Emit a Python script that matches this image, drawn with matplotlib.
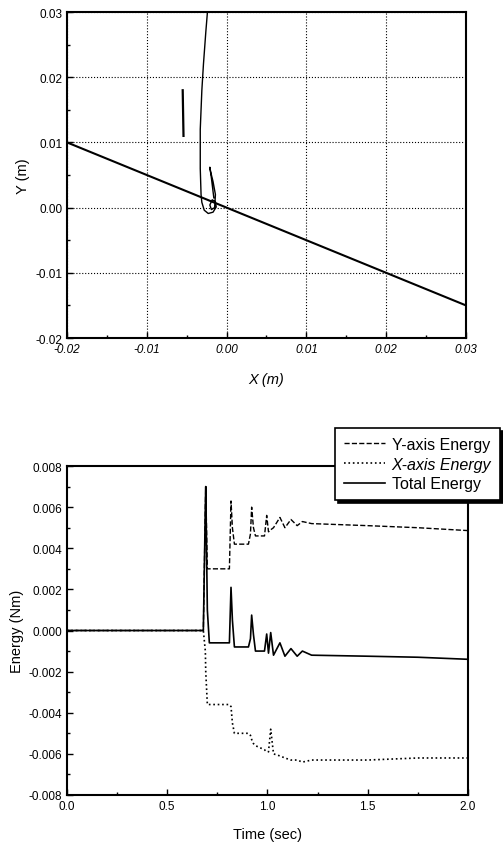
import matplotlib
matplotlib.use("Agg")
import matplotlib.pyplot as plt
from matplotlib.ticker import MultipleLocator

plt.rcParams['font.family'] = ['Liberation Sans', 'DejaVu Sans']

# ---- datos trayectoria (grafico superior) ----
ref_x = [-0.02, 0.03]
ref_y = [0.01, -0.015]

tray_x = [-0.0024, -0.0026, -0.0029, -0.0031, -0.0033, -0.0033, -0.0032, -0.0031,
          -0.0028, -0.0023, -0.0017, -0.0013, -0.0014, -0.0018, -0.0021, -0.0019,
          -0.0015, -0.0014, -0.0017, -0.0020, -0.0021, -0.0019, -0.0016]
tray_y = [0.030, 0.027, 0.022, 0.018, 0.012, 0.006, 0.002, 0.0008,
          -0.0004, -0.0009, -0.0007, 0.0001, 0.0009, 0.0012, 0.0004, -0.0003,
          0.0000, 0.0020, 0.0040, 0.0055, 0.0062, 0.0045, 0.0015]

marca_x = [-0.0055, -0.0054]
marca_y = [0.018, 0.011]

# ---- datos energia (grafico inferior) ----
t = [0.0, 0.68, 0.69, 0.692, 0.70, 0.71, 0.81, 0.818, 0.825, 0.835, 0.905, 0.915,
     0.921, 0.93, 0.94, 0.985, 0.996, 1.005, 1.016, 1.03, 1.062, 1.087, 1.117,
     1.148, 1.174, 1.22, 1.5, 1.75, 2.0]
e_total = [0.0, 0.0, 0.0060, 0.0070, 0.0010, -0.0006, -0.0006, 0.0021, 0.0005,
           -0.0008, -0.0008, -0.0004, 0.00075, -0.0002, -0.0010, -0.0010, -0.00017,
           -0.0011, -0.0001, -0.0012, -0.0006, -0.00125, -0.00088, -0.00125, -0.0010,
           -0.0012, -0.00125, -0.0013, -0.0014]
e_y = [0.0, 0.0, 0.0060, 0.0070, 0.0030, 0.0030, 0.0030, 0.0063, 0.0050,
       0.0042, 0.0042, 0.0047, 0.0060, 0.0050, 0.0046, 0.0046, 0.0056,
       0.0048, 0.0049, 0.0050, 0.0055, 0.0050, 0.0054, 0.0051, 0.0053,
       0.0052, 0.0051, 0.0050, 0.00486]
e_x = [0.0, 0.0, -0.0010, -0.0020, -0.0036, -0.0036, -0.0036, -0.0037, -0.0045,
       -0.0050, -0.0050, -0.0051, -0.0053, -0.0055, -0.0056, -0.0058, -0.0059,
       -0.0059, -0.0048, -0.0060, -0.0061, -0.0062, -0.0063, -0.0063, -0.0064,
       -0.0063, -0.0063, -0.0062, -0.0062]

fig = plt.figure(figsize=(5.03, 8.45), dpi=100)

# ==========================================
# grafico superior: X-Y
# ==========================================
ax1 = fig.add_axes([0.1332, 0.5988, 0.7932, 0.3858])
ax1.plot(ref_x, ref_y, color='black', linewidth=1.5, zorder=3)
ax1.plot(tray_x, tray_y, color='black', linewidth=1.0, zorder=3)
ax1.plot(marca_x, marca_y, color='black', linewidth=1.6, zorder=3)
ax1.set_xlim(-0.02, 0.03)
ax1.set_ylim(-0.02, 0.03)
ax1.xaxis.set_major_locator(MultipleLocator(0.01))
ax1.yaxis.set_major_locator(MultipleLocator(0.01))
ax1.yaxis.set_minor_locator(MultipleLocator(0.005))
ax1.xaxis.set_minor_locator(MultipleLocator(0.005))
ax1.xaxis.set_major_formatter(plt.FormatStrFormatter('%.2f'))
ax1.yaxis.set_major_formatter(plt.FormatStrFormatter('%.2f'))
ax1.grid(True, color='black', linestyle=':', linewidth=0.8)
ax1.tick_params(direction='in', labelsize=8.5, length=4, width=1)
ax1.tick_params(which='minor', direction='in', length=2.5, width=1)
for lb in ax1.get_xticklabels():
    lb.set_fontstyle('italic')
ax1.set_xlabel('X (m)', fontsize=10.5, fontstyle='italic', labelpad=12)
ax1.set_ylabel('Y (m)', fontsize=10.5, labelpad=4)
for s in ax1.spines.values():
    s.set_linewidth(1.5)

# ==========================================
# grafico inferior: energia
# ==========================================
ax2 = fig.add_axes([0.1332, 0.0580, 0.7972, 0.3893])
ax2.plot(t, e_y, color='black', linestyle='--', linewidth=1.0, label='Y-axis Energy')
ax2.plot(t, e_x, color='black', linestyle=':', linewidth=1.2, label='X-axis Energy')
ax2.plot(t, e_total, color='black', linestyle='-', linewidth=1.2, label='Total Energy')
ax2.set_xlim(0.0, 2.0)
ax2.set_ylim(-0.008, 0.008)
ax2.xaxis.set_major_locator(MultipleLocator(0.5))
ax2.xaxis.set_minor_locator(MultipleLocator(0.25))
ax2.yaxis.set_major_locator(MultipleLocator(0.002))
ax2.yaxis.set_minor_locator(MultipleLocator(0.001))
ax2.xaxis.set_major_formatter(plt.FormatStrFormatter('%.1f'))
ax2.yaxis.set_major_formatter(plt.FormatStrFormatter('%.3f'))
ax2.tick_params(direction='in', labelsize=8.5, length=4, width=1)
ax2.tick_params(which='minor', direction='in', length=2.5, width=1)
ax2.set_xlabel('Time (sec)', fontsize=10.5, labelpad=11)
ax2.set_ylabel('Energy (Nm)', fontsize=10.5, labelpad=3)
for s in ax2.spines.values():
    s.set_linewidth(1.5)

leg = ax2.legend(loc='upper right', bbox_to_anchor=(0.994, 0.4923),
                 bbox_transform=fig.transFigure, fontsize=11.5, frameon=True,
                 fancybox=False, shadow={'color': 'black', 'alpha': 1.0},
                 handlelength=2.6, handletextpad=0.4, labelspacing=0.3,
                 borderpad=0.55, borderaxespad=0)
leg.get_frame().set_edgecolor('black')
leg.get_frame().set_linewidth(1.2)
leg.get_frame().set_alpha(1.0)
leg.get_texts()[1].set_fontstyle('italic')

fig.savefig('out.png', dpi=100)
